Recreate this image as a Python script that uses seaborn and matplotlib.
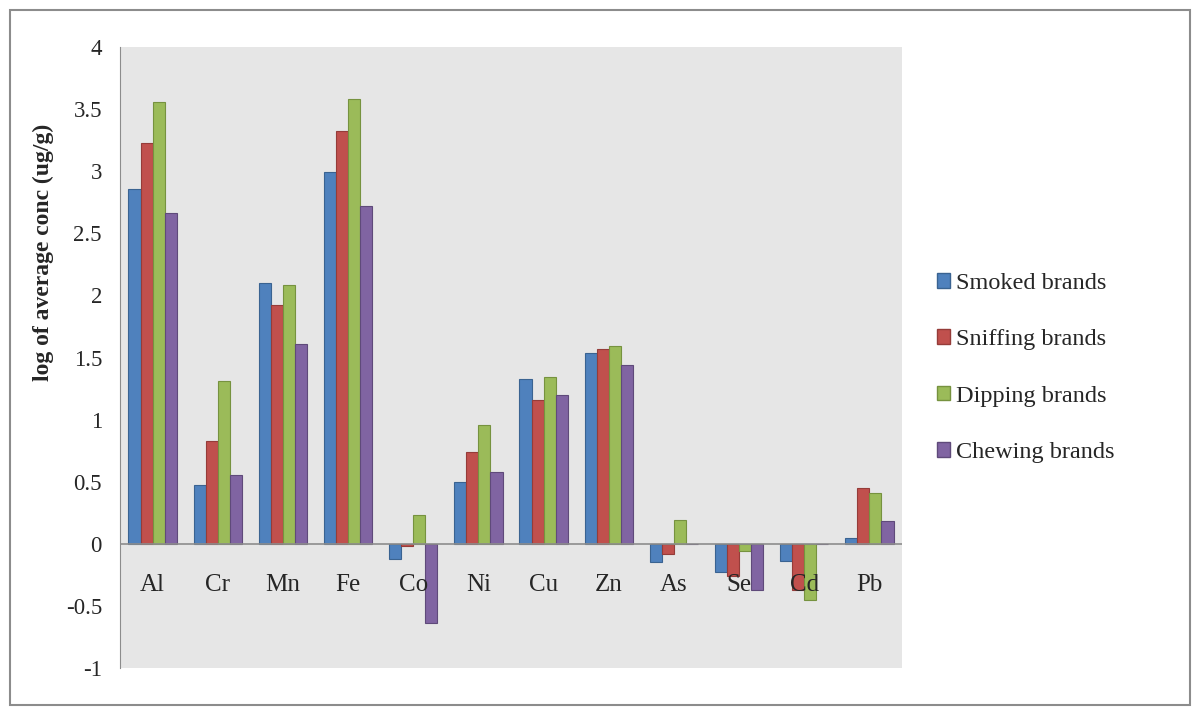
import pandas as pd
import matplotlib.pyplot as plt
import matplotlib.patches as mpatches
import seaborn as sns

# Values (log of average conc, ug/g)
elements = ['Al', 'Cr', 'Mn', 'Fe', 'Co', 'Ni', 'Cu', 'Zn', 'As', 'Se', 'Cd', 'Pb']
smoked = [2.86, 0.47, 2.10, 2.99, -0.12, 0.50, 1.33, 1.54, -0.15, -0.23, -0.14, 0.05]
sniffing = [3.23, 0.83, 1.92, 3.32, -0.02, 0.74, 1.16, 1.57, -0.08, -0.26, -0.37, 0.45]
dipping = [3.56, 1.31, 2.08, 3.58, 0.23, 0.96, 1.34, 1.59, 0.19, -0.06, -0.45, 0.41]
chewing = [2.66, 0.55, 1.61, 2.72, -0.64, 0.58, 1.20, 1.44, 0.0, -0.37, 0.0, 0.18]
series = ['Smoked brands', 'Sniffing brands', 'Dipping brands', 'Chewing brands']
colors = ['#4F81BD', '#C0504D', '#9BBB59', '#8064A2']
edges = ['#3A6391', '#953C39', '#76923F', '#5F4A7A']

rows = []
for name, vals in zip(series, [smoked, sniffing, dipping, chewing]):
    for el, v in zip(elements, vals):
        rows.append({'Element': el, 'Brand': name, 'Value': v})
df = pd.DataFrame(rows)

sns.set_style('white')
plt.rcParams['font.family'] = ['Liberation Serif', 'DejaVu Serif']

fig = plt.figure(figsize=(12, 7.13), dpi=100)
ax = fig.add_axes([120 / 1200, 1 - 668 / 713, 782 / 1200, 621 / 713])
ax.set_facecolor('#E6E6E6')

sns.barplot(data=df, x='Element', y='Value', hue='Brand', palette=colors,
            width=0.74, ax=ax, legend=False, saturation=1)

# bar edges per series
n = len(elements)
for i, bar in enumerate(ax.patches[:4 * n]):
    bar.set_edgecolor(edges[i // n])
    bar.set_linewidth(0.8)

ax.set_ylim(-1, 4)
ax.set_xlim(-0.5, n - 0.5)
ax.set_yticks([-1, -0.5, 0, 0.5, 1, 1.5, 2, 2.5, 3, 3.5, 4])
ax.set_yticklabels(['-1', '-0.5', '0', '0.5', '1', '1.5', '2', '2.5', '3', '3.5', '4'])
ax.tick_params(axis='y', labelsize=16.5, length=0, pad=13)
ax.set_xticks([])
ax.set_xlabel('')
ax.set_ylabel('log of average conc (ug/g)', fontsize=17, fontweight='bold')
ax.yaxis.set_label_coords(-0.085, 0.67)

ax.axhline(0, color='#8C8C8C', linewidth=1.2)
for s in ['top', 'right', 'bottom']:
    ax.spines[s].set_visible(False)
ax.spines['left'].set_color('#8C8C8C')

for i, el in enumerate(elements):
    ax.text(i, -0.33, el, ha='center', va='center', fontsize=18)

handles = [mpatches.Patch(facecolor=c, edgecolor=e, label=s)
           for c, e, s in zip(colors, edges, series)]
fig.legend(handles=handles, loc='center left', bbox_to_anchor=(915 / 1200, 1 - 368 / 713),
           frameon=False, fontsize=17.5, labelspacing=1.45, handlelength=0.55,
           handleheight=0.55, handletextpad=0.25)

# outer frame
fig.patches.append(mpatches.Rectangle((10 / 1200, 8 / 713), 1180 / 1200, 695 / 713,
                                      transform=fig.transFigure, fill=False,
                                      edgecolor='#8C8C8C', linewidth=1.5))

fig.savefig('out.png', dpi=100)
